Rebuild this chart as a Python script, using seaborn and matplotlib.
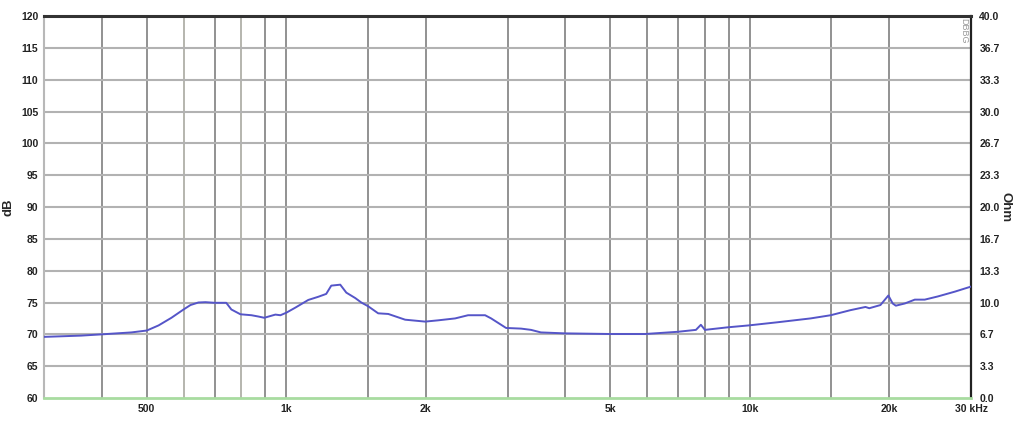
import matplotlib
matplotlib.use('Agg')
import matplotlib.pyplot as plt
import pandas as pd
import seaborn as sns


FREQ = [300, 361, 400, 463, 500, 530, 565, 600, 621, 646, 669, 700, 742, 761,
        796, 841, 870, 896, 947, 971, 1000, 1046, 1115, 1172, 1219, 1250, 1307,
        1347, 1408, 1451, 1502, 1578, 1659, 1804, 1993, 2126, 2313, 2466, 2684,
        2766, 2979, 3209, 3372, 3542, 3991, 4990, 5940, 6992, 7650, 7840, 8000,
        8954, 9939, 11490, 13520, 14940, 16490, 17760, 18100, 19130, 19900,
        20330, 20650, 21600, 22690, 23840, 25440, 27670, 30000]
SPL = [69.6, 69.8, 70.0, 70.3, 70.6, 71.4, 72.6, 73.9, 74.6, 75.0, 75.05, 74.95,
       74.95, 73.9, 73.15, 73.0, 72.8, 72.6, 73.1, 73.0, 73.4, 74.2, 75.4, 75.9,
       76.35, 77.65, 77.8, 76.55, 75.7, 75.0, 74.4, 73.3, 73.2, 72.3, 72.0, 72.2,
       72.5, 73.0, 73.0, 72.5, 71.0, 70.9, 70.7, 70.3, 70.15, 70.05, 70.05, 70.4,
       70.7, 71.5, 70.7, 71.1, 71.4, 71.9, 72.5, 73.0, 73.8, 74.3, 74.1, 74.6,
       76.1, 74.85, 74.5, 74.85, 75.45, 75.45, 75.95, 76.7, 77.5]

GRID_FREQ = [400, 500, 600, 700, 800, 900, 1000, 1500, 2000, 3000, 4000, 5000,
             6000, 7000, 8000, 9000, 10000, 15000, 20000]
LIGHT_GRID = [600, 800]
XTICKS = [500, 1000, 2000, 5000, 10000, 20000, 30000]
XLABELS = ['500', '1k', '2k', '5k', '10k', '20k', '30 kHz']
DB_TICKS = list(range(60, 121, 5))
OHM_TICKS = [i * 40 / 12 for i in range(13)]

sns.set_style('white')
plt.rcParams['font.family'] = ['Liberation Sans', 'DejaVu Sans']

fig = plt.figure(figsize=(10.24, 4.26), dpi=100)
ax = fig.add_axes([44 / 1024, 1 - 398 / 426, 927 / 1024, 382 / 426])

df = pd.DataFrame({'freq': FREQ, 'spl': SPL})

for f in GRID_FREQ:
    c = '#b6b6ae' if f in LIGHT_GRID else '#929292'
    ax.axvline(f, color=c, lw=1.4, zorder=1)
for y in DB_TICKS[1:-1]:
    ax.axhline(y, color='#b2b2b2', lw=1.5, zorder=1)

sns.lineplot(data=df, x='freq', y='spl', ax=ax, color='#5555c8', lw=1.4,
             zorder=3)

ax.set_xscale('log')
ax.set_xlim(300, 30000)
ax.set_ylim(60, 120)
ax.set_xticks(XTICKS)
ax.set_xticklabels(XLABELS)
ax.minorticks_off()
ax.set_yticks(DB_TICKS)
ax.tick_params(length=0, labelsize=7.5, colors='#222222', pad=4)
for t in ax.get_xticklabels() + ax.get_yticklabels():
    t.set_fontweight('bold')
ax.set_xlabel('')
ax.set_ylabel('dB', fontsize=9.5, fontweight='bold')
ax.yaxis.set_label_coords(-0.032, 0.5)

ax.spines['top'].set_color('#333333')
ax.spines['top'].set_linewidth(2.2)
ax.spines['left'].set_color('#b8b8b8')
ax.spines['left'].set_linewidth(1.5)
ax.spines['bottom'].set_color('#a8dca0')
ax.spines['bottom'].set_linewidth(2)
ax.spines['right'].set_color('#222222')
ax.spines['right'].set_linewidth(1.6)

ax2 = ax.twinx()
ax2.set_ylim(0, 40)
ax2.set_yticks(OHM_TICKS)
ax2.set_yticklabels([f'{v:.1f}' for v in OHM_TICKS])
ax2.tick_params(length=0, labelsize=7.5, colors='#222222', pad=6)
for t in ax2.get_yticklabels():
    t.set_fontweight('bold')
ax2.set_ylabel('Ohm', fontsize=9.5, fontweight='bold', rotation=270)
ax2.yaxis.set_label_coords(1.044, 0.5)
for s in ax2.spines.values():
    s.set_visible(False)

ax.text(0.997, 0.995, 'DBBG', transform=ax.transAxes, rotation=270,
        ha='right', va='top', fontsize=6.5, color='#999999')

fig.savefig('out.png', dpi=100)
